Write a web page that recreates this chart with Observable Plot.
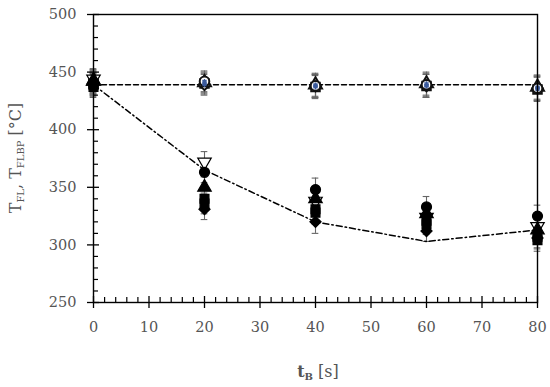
<!DOCTYPE html>
<html><head><meta charset="utf-8">
<script src="https://cdn.jsdelivr.net/npm/d3@7"></script>
<script src="https://cdn.jsdelivr.net/npm/@observablehq/plot@0.6"></script>
<style>body{margin:0;background:#fff} svg{display:block}</style>
</head><body><div id="chart"></div>
<script>
// ---- data ----
const times = [0, 20, 40, 60, 80];

// T_FL (filled markers, lower group)
const flCircle   = [441, 363, 348, 333, 325];
const flTriangle = [443, 350, 340, 327, 313];
const flSquareA  = [439, 340, 331, 321, 307];
const flSquareB  = [437, 336, 328, 318, 304];
const flDiamond  = [440, 331, 320, 312, 306];
const flOpenTri  = [444, 372, 338, 324, 316];
const flErr      = [9, 9, 10, 9, 9.5];

// T_FLBP (open markers, upper group)
const bpCircle   = [441, 442, 438, 439, 436];
const bpTriangle = [442, 441, 439, 440, 437];
const bpSquare   = [440, 440, 437, 438, 435];
const bpDiamond  = [439, 439, 438, 438, 436];
const bpErr      = [10, 9, 10, 10, 10.5];

// reference lines
const dashedLevel = [439, 439];
const dashedTimes = [0, 80];
const fitTimes  = [0, 20, 40, 60, 80];
const fitValues = [439, 365, 320, 303, 313];

// ticks
const xMajor = [0, 10, 20, 30, 40, 50, 60, 70, 80];
const xMinor = d3.range(0, 81, 2).filter(v => v % 10 !== 0);
const yMajor = [250, 300, 350, 400, 450, 500];
const yMinor = d3.range(250, 501, 10).filter(v => v % 50 !== 0);

// ---- build rows ----
const lowerSeries = [
  {vals: flOpenTri,  symbol: "triangle", fill: "white", rotate: 180},
  {vals: flDiamond,  symbol: "diamond2", fill: "black"},
  {vals: flSquareB,  symbol: "square",   fill: "black"},
  {vals: flSquareA,  symbol: "square",   fill: "black"},
  {vals: flTriangle, symbol: "triangle", fill: "black"},
  {vals: flCircle,   symbol: "circle",   fill: "black"}
];
const upperSeries = [
  {vals: bpSquare,   symbol: "square"},
  {vals: bpDiamond,  symbol: "diamond2"},
  {vals: bpTriangle, symbol: "triangle"},
  {vals: bpCircle,   symbol: "circle"}
];
const lowerRows = lowerSeries.flatMap(s => times.map((t, i) => ({t, v: s.vals[i], e: flErr[i], symbol: s.symbol, fill: s.fill, rotate: s.rotate || 0})));
const upperRows = upperSeries.flatMap(s => times.map((t, i) => ({t, v: s.vals[i], e: bpErr[i], symbol: s.symbol})));
const allRows = [...lowerRows, ...upperRows];
const dashedRows = dashedTimes.map((t, i) => ({t, v: dashedLevel[i]}));
const fitRows = fitTimes.map((t, i) => ({t, v: fitValues[i]}));

const font = "DejaVu Serif";
const capHalf = 0.6;

const plot = Plot.plot({
  width: 550, height: 387,
  marginLeft: 93, marginRight: 13, marginTop: 14, marginBottom: 85,
  style: {fontFamily: font, fontSize: "14.5px", color: "#555", background: "white"},
  x: {domain: [0, 80]},
  y: {domain: [250, 500]},
  marks: [
    // error bars
    Plot.ruleX(allRows, {x: "t", y1: d => d.v - d.e, y2: d => d.v + d.e, stroke: "#666", strokeWidth: 1.1}),
    Plot.ruleY(allRows, {y: d => d.v + d.e, x1: d => d.t - capHalf, x2: d => d.t + capHalf, stroke: "#666", strokeWidth: 1.1}),
    Plot.ruleY(allRows, {y: d => d.v - d.e, x1: d => d.t - capHalf, x2: d => d.t + capHalf, stroke: "#666", strokeWidth: 1.1}),
    // lines
    Plot.line(dashedRows, {x: "t", y: "v", stroke: "black", strokeWidth: 1.5, strokeDasharray: "5,3"}),
    Plot.line(fitRows, {x: "t", y: "v", stroke: "black", strokeWidth: 1.5, strokeDasharray: "6,3,1.5,3"}),
    // upper markers (open, dark outline, blue centre)
    Plot.dot(upperRows, {x: "t", y: "v", symbol: "symbol", r: 4.8, fill: "white", stroke: "#111", strokeWidth: 2}),
    Plot.dot(upperRows, {x: "t", y: "v", symbol: "asterisk", r: 2.2, stroke: "#3a5a9c", strokeWidth: 1.3}),
    // lower markers
    Plot.dot(lowerRows, {x: "t", y: "v", symbol: "symbol", r: 5, fill: "fill", stroke: "black", strokeWidth: 1.2, rotate: "rotate"}),
    // frame
    Plot.frame({stroke: "black", strokeWidth: 1.4}),
    // x ticks: major crossing, minor inside
    Plot.axisX({ticks: xMajor, tickSize: 12, insetBottom: 6, text: null, label: null, stroke: "black", strokeWidth: 1.3}),
    Plot.axisX({ticks: xMinor, tickSize: 5, insetBottom: 5, text: null, label: null, stroke: "black", strokeWidth: 1.2}),
    Plot.axisX({ticks: xMajor, tickSize: 0, tickPadding: 19, label: null, tickFormat: d => d, fill: "#555"}),
    // y ticks
    Plot.axisY({ticks: yMajor, tickSize: 12, insetLeft: 6, text: null, label: null, stroke: "black", strokeWidth: 1.3}),
    Plot.axisY({ticks: yMinor, tickSize: 5, insetLeft: 5, text: null, label: null, stroke: "black", strokeWidth: 1.2}),
    Plot.axisY({ticks: yMajor, tickSize: 0, tickPadding: 17, label: null, tickFormat: d => d, fill: "#555"})
  ]
});

// axis titles with subscripts
const svg = d3.select(plot);
const yl = svg.append("text")
  .attr("transform", "translate(21,158) rotate(-90)")
  .attr("text-anchor", "middle")
  .attr("fill", "#555")
  .style("font-family", font).style("font-size", "16px");
yl.append("tspan").text("T");
yl.append("tspan").attr("dy", 3).style("font-size", "10px").text("FL");
yl.append("tspan").attr("dy", -3).text(", T");
yl.append("tspan").attr("dy", 3).style("font-size", "10px").text("FLBP");
yl.append("tspan").attr("dy", -3).text(" [°C]");

const xl = svg.append("text")
  .attr("x", 318).attr("y", 377)
  .attr("text-anchor", "middle")
  .attr("fill", "#555")
  .style("font-family", font).style("font-size", "16px");
xl.append("tspan").style("font-weight", "bold").text("t");
xl.append("tspan").attr("dy", 3).style("font-size", "10px").style("font-weight", "bold").text("B");
xl.append("tspan").attr("dy", -3).text(" [s]");

document.getElementById("chart").appendChild(plot);
</script>
</body></html>
